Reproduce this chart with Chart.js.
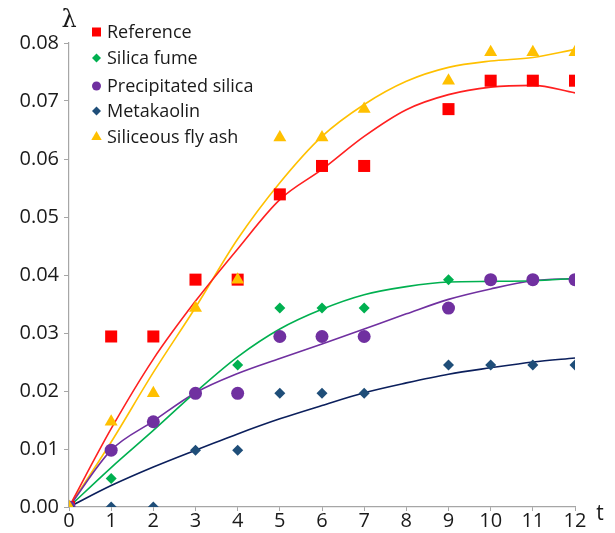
<!DOCTYPE html>
<html>
<head>
<meta charset="utf-8">
<script src="https://cdn.jsdelivr.net/npm/chart.js@4.4.1/dist/chart.umd.min.js"></script>
<style>
html,body{margin:0;padding:0;background:#fff;}
#wrap{width:615px;height:533px;position:relative;}
</style>
</head>
<body>
<div id="wrap"><canvas id="c" width="615" height="533"></canvas></div>
<script>
// measured times (no point at t = 8)
const times = [0, 1, 2, 3, 4, 5, 6, 7, 9, 10, 11, 12];
const reference        = [0, 0.0294, 0.0294, 0.0392, 0.0392, 0.0539, 0.0588, 0.0588, 0.0686, 0.0735, 0.0735, 0.0735];
const silicaFume       = [0, 0.0049, 0.0147, 0.0196, 0.0245, 0.0343, 0.0343, 0.0343, 0.0392, 0.0392, 0.0392, 0.0392];
const precipSilica     = [0, 0.0098, 0.0147, 0.0196, 0.0196, 0.0294, 0.0294, 0.0294, 0.0343, 0.0392, 0.0392, 0.0392];
const metakaolin       = [0, 0, 0, 0.0098, 0.0098, 0.0196, 0.0196, 0.0196, 0.0245, 0.0245, 0.0245, 0.0245];
const flyAsh           = [0, 0.0147, 0.0196, 0.0343, 0.0392, 0.0637, 0.0637, 0.0686, 0.0735, 0.0784, 0.0784, 0.0784];

// trend-line values at each integer t
const fitTimes = [0, 1, 2, 3, 4, 5, 6, 7, 8, 9, 10, 11, 12];
const referenceFit    = [0, 0.0135, 0.0255, 0.0355, 0.0445, 0.0530, 0.0582, 0.0639, 0.0685, 0.0711, 0.0724, 0.0727, 0.0714];
const silicaFumeFit   = [0, 0.0068, 0.0132, 0.0198, 0.0259, 0.0307, 0.0341, 0.0366, 0.0380, 0.0388, 0.0389, 0.0390, 0.0394];
const precipSilicaFit = [0, 0.0098, 0.0148, 0.0197, 0.0230, 0.0256, 0.0281, 0.0307, 0.0333, 0.0358, 0.0376, 0.0390, 0.0394];
const metakaolinFit   = [0, 0.0037, 0.0069, 0.0098, 0.0126, 0.0152, 0.0175, 0.0197, 0.0214, 0.0229, 0.0240, 0.0250, 0.0257];
const flyAshFit       = [0, 0.0112, 0.0232, 0.0344, 0.0462, 0.0559, 0.0639, 0.0694, 0.0734, 0.0758, 0.0769, 0.0775, 0.0789];

const seriesNames = ['Reference', 'Silica fume', 'Precipitated silica', 'Metakaolin', 'Siliceous fly ash'];
const yTicks = [0, 0.01, 0.02, 0.03, 0.04, 0.05, 0.06, 0.07, 0.08];
const xTicks = [0, 1, 2, 3, 4, 5, 6, 7, 8, 9, 10, 11, 12];

const pts = (xs, ys) => xs.map((x, i) => ({x: x, y: ys[i]}));

const styles = [
  {marker: '#FF0000', line: '#FF2020', style: 'rect', r: 8.5, lr: 5.5, order: 4},
  {marker: '#00B050', line: '#00B050', style: 'rectRot', r: 5.5, lr: 4.5, order: 3},
  {marker: '#7030A0', line: '#7030A0', style: 'circle', r: 6.5, lr: 4.5, order: 2},
  {marker: '#1F4E79', line: '#0B1F5C', style: 'rectRot', r: 5.5, lr: 4.5, order: 1},
  {marker: '#FFC000', line: '#FFC000', style: 'triangle', r: 7.5, lr: 6, order: 0}
];
const markerData = [reference, silicaFume, precipSilica, metakaolin, flyAsh];
const fitData = [referenceFit, silicaFumeFit, precipSilicaFit, metakaolinFit, flyAshFit];

const datasets = [];
seriesNames.forEach((name, i) => {
  const s = styles[i];
  datasets.push({
    label: name,
    data: pts(times, markerData[i]),
    showLine: false,
    pointStyle: s.style,
    pointRadius: s.r,
    pointHoverRadius: s.r,
    pointBackgroundColor: s.marker,
    pointBorderColor: s.marker,
    pointBorderWidth: 0,
    backgroundColor: s.marker,
    borderColor: s.marker,
    order: s.order,
    legendRadius: s.lr
  });
});
seriesNames.forEach((name, i) => {
  const s = styles[i];
  datasets.push({
    label: name + ' trend',
    data: pts(fitTimes, fitData[i]),
    showLine: true,
    pointRadius: 0,
    borderColor: s.line,
    borderWidth: 1.6,
    cubicInterpolationMode: 'monotone',
    fill: false,
    order: 10 + i,
    isTrend: true
  });
});

const FONT = '"Open Sans", Lato, "DejaVu Sans", sans-serif';

const legendPlugin = {
  id: 'customLegend',
  afterDatasetsDraw(chart) {
    const ctx = chart.ctx;
    const ys = [32, 58, 86, 111, 137];
    ctx.save();
    chart.data.datasets.forEach((ds, i) => {
      if (ds.isTrend) return;
      const y = ys[i];
      const cx = 96.5;
      ctx.fillStyle = ds.pointBackgroundColor;
      ctx.beginPath();
      if (ds.pointStyle === 'rect') {
        ctx.rect(cx - 4.5, y - 4.5, 9, 9);
      } else if (ds.pointStyle === 'rectRot') {
        const r = ds.legendRadius;
        ctx.moveTo(cx, y - r); ctx.lineTo(cx + r, y); ctx.lineTo(cx, y + r); ctx.lineTo(cx - r, y); ctx.closePath();
      } else if (ds.pointStyle === 'circle') {
        ctx.arc(cx, y, ds.legendRadius, 0, Math.PI * 2);
      } else {
        const r = ds.legendRadius;
        ctx.moveTo(cx, y - r); ctx.lineTo(cx + r * 0.866, y + r * 0.5); ctx.lineTo(cx - r * 0.866, y + r * 0.5); ctx.closePath();
      }
      ctx.fill();
      ctx.fillStyle = '#1a1a1a';
      ctx.font = '18px ' + FONT;
      ctx.textAlign = 'left';
      ctx.textBaseline = 'middle';
      ctx.fillText(ds.label, 107, y + 1);
    });
    // axis titles
    ctx.fillStyle = '#1a1a1a';
    ctx.font = '24px "DejaVu Serif", serif';
    ctx.textAlign = 'center';
    ctx.textBaseline = 'middle';
    ctx.fillText('λ', 69, 21);
    ctx.font = '21px ' + FONT;
    ctx.fillText('t', 600, 514);
    ctx.restore();
  }
};

new Chart(document.getElementById('c'), {
  type: 'scatter',
  data: {datasets: datasets},
  options: {
    responsive: false,
    animation: false,
    devicePixelRatio: 1,
    layout: {padding: {left: 0, top: 43, right: 40, bottom: 0}},
    plugins: {legend: {display: false}, tooltip: {enabled: false}},
    scales: {
      x: {
        type: 'linear', min: 0, max: 12,
        afterFit(scale) { scale.height = 26; },
        afterBuildTicks(scale) { scale.ticks = xTicks.map(v => ({value: v})); },
        border: {color: '#A6A6A6', width: 1.2},
        grid: {drawOnChartArea: false, color: '#A6A6A6', tickLength: 4},
        ticks: {color: '#1a1a1a', font: {size: 20, family: FONT}, padding: -2, maxRotation: 0,
          callback: v => String(v)}
      },
      y: {
        type: 'linear', min: 0, max: 0.08,
        afterFit(scale) { scale.width = 69; },
        afterBuildTicks(scale) { scale.ticks = yTicks.map(v => ({value: v})); },
        border: {color: '#A6A6A6', width: 1.2},
        grid: {drawOnChartArea: false, color: '#A6A6A6', tickLength: 5},
        ticks: {color: '#1a1a1a', font: {size: 20, family: FONT}, padding: 5,
          callback: v => Number(v).toFixed(2)}
      }
    }
  },
  plugins: [legendPlugin]
});
</script>
</body>
</html>
